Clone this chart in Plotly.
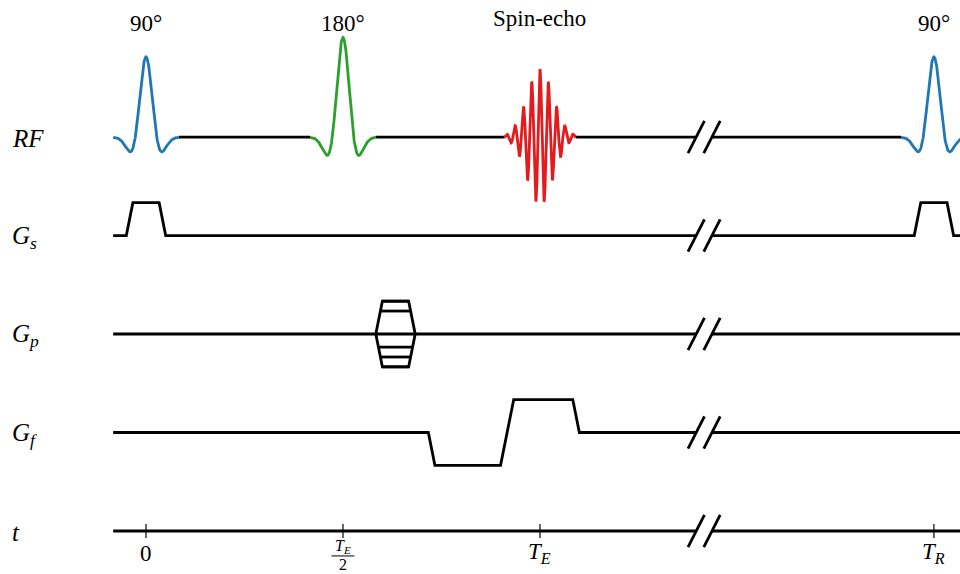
import numpy as np
import plotly.graph_objects as go

# ---- sequence timing (time unit: TE/2 = 6) ----
TE = 12.0
TR = 24.0
t_start, t_end = -1.0, 25.0
t_break = 17.0          # where the "//" axis break sits
break_gap = 0.24        # half-spacing of the two break slashes

# ---- rows (vertical offset of each channel baseline) ----
row_labels = ["<i>RF</i>", "<i>G</i><sub><i>s</i></sub>", "<i>G</i><sub><i>p</i></sub>",
              "<i>G</i><sub><i>f</i></sub>", "<i>t</i>"]
row_levels = [12.0, 9.0, 6.0, 3.0, 0.0]

# ---- RF excitation / refocusing pulses ----
rf_centers = [0.0, 6.0, 24.0]
rf_amps = [2.44, 3.03, 2.44]
rf_colors = ["#1f77b4", "#2ca02c", "#1f77b4"]
rf_labels = ["90°", "180°", "90°"]
rf_halfwidth = 1.0
rf_zero = 0.326         # first zero crossing of the pulse lobe
rf_decay = 0.250        # width of the pulse envelope

# ---- spin echo ----
echo_center = TE
echo_amp = 2.06
echo_halfwidth = 1.1
echo_period = 0.254
echo_sigma = 0.40

# ---- slice-select gradient (trapezoid times relative to each 90° pulse) ----
gs_times = [-0.6, -0.4, 0.4, 0.6]
gs_amps = [0.0, 1.0, 1.0, 0.0]

# ---- phase-encode table ----
gp_times = [7.0, 7.2, 8.0, 8.2]
gp_steps = [1.0, 0.7, -0.4, -0.7, -1.0]

# ---- frequency-encode (readout) gradient ----
gf_times = [8.6, 8.8, 10.8, 11.2, 13.0, 13.2]
gf_amps = [0.0, -1.0, -1.0, 1.0, 1.0, 0.0]

# ---- time axis ticks ----
tick_times = [0.0, TE / 2, TE, TR]

LW = 2.8
BLACK = "#000000"
FONT = "'Liberation Serif', 'Times New Roman', serif"

fig = go.Figure()


def add_line(xs, ys, color=BLACK, width=LW):
    fig.add_trace(go.Scatter(x=xs, y=ys, mode="lines",
                             line=dict(color=color, width=width, shape="linear"),
                             hoverinfo="skip", showlegend=False))


def with_break(xs, ys, level):
    """Split a waveform at the axis break and add the '//' marks."""
    xs = list(xs)
    ys = list(ys)
    left_x = [x for x in xs if x < t_break - break_gap] + [t_break - break_gap]
    left_y = ys[:len(left_x) - 1] + [level]
    right_x = [t_break + break_gap] + [x for x in xs if x > t_break + break_gap]
    right_y = [level] + ys[len(xs) - (len(right_x) - 1):]
    add_line(left_x, left_y)
    add_line(right_x, right_y)
    for cx in (t_break - break_gap, t_break + break_gap):
        add_line([cx - 0.25, cx + 0.25], [level - 0.49, level + 0.49])


# ---- RF row ----
rf_level = row_levels[0]
u = np.linspace(-1.0, 1.0, 301)
rf_shape = (1 - (u / rf_zero) ** 2) * np.exp(-u ** 2 / (2 * rf_decay ** 2))
for c, a, col in zip(rf_centers, rf_amps, rf_colors):
    add_line(c + rf_halfwidth * u, rf_level + a * rf_shape, color=col)

ue = np.linspace(-echo_halfwidth, echo_halfwidth, 601)
echo_shape = np.cos(2 * np.pi * ue / echo_period) * np.exp(-ue ** 2 / (2 * echo_sigma ** 2))
add_line(echo_center + ue, rf_level + echo_amp * echo_shape, color="#e41a1c")

rf_gaps = [(rf_centers[0] + rf_halfwidth, rf_centers[1] - rf_halfwidth),
           (rf_centers[1] + rf_halfwidth, echo_center - echo_halfwidth)]
for a, b in rf_gaps:
    add_line([a, b], [rf_level, rf_level])
with_break([echo_center + echo_halfwidth, rf_centers[2] - rf_halfwidth],
           [rf_level, rf_level], rf_level)

# ---- Gs row ----
gs_level = row_levels[1]
gx = [t_start] + [rf_centers[0] + t for t in gs_times] + [rf_centers[2] + t for t in gs_times] + [t_end]
gy = [0.0] + gs_amps + gs_amps + [0.0]
with_break(gx, [gs_level + v for v in gy], gs_level)

# ---- Gp row ----
gp_level = row_levels[2]
with_break([t_start, t_end], [gp_level, gp_level], gp_level)
ramp = gp_times[1] - gp_times[0]
hx = [gp_times[0], gp_times[1], gp_times[2], gp_times[3], gp_times[2], gp_times[1], gp_times[0]]
hy = [0.0, 1.0, 1.0, 0.0, -1.0, -1.0, 0.0]
add_line(hx, [gp_level + v for v in hy])
for s in gp_steps:
    add_line([gp_times[0] + ramp * abs(s), gp_times[3] - ramp * abs(s)],
             [gp_level + s, gp_level + s])

# ---- Gf row ----
gf_level = row_levels[3]
fx = [t_start] + gf_times + [t_end]
fy = [0.0] + gf_amps + [0.0]
with_break(fx, [gf_level + v for v in fy], gf_level)

# ---- time axis ----
t_level = row_levels[4]
with_break([t_start, t_end], [t_level, t_level], t_level)
fig.add_trace(go.Scatter(x=tick_times, y=[t_level] * len(tick_times), mode="markers",
                         marker=dict(symbol="line-ns", size=10,
                                     line=dict(color=BLACK, width=1.2)),
                         hoverinfo="skip", showlegend=False))

# ---- text ----
annotations = []
for lab, lev in zip(row_labels, row_levels):
    annotations.append(dict(x=-4.14, y=lev - 0.05, text=lab, xanchor="left", yanchor="middle",
                            showarrow=False, font=dict(family=FONT, size=25, color=BLACK)))
for c, lab in zip(rf_centers, rf_labels):
    annotations.append(dict(x=c, y=15.47, text=lab, xanchor="center", yanchor="middle",
                            showarrow=False, font=dict(family=FONT, size=23, color=BLACK)))
annotations.append(dict(x=echo_center, y=15.62, text="Spin-echo", xanchor="center",
                        yanchor="middle", showarrow=False,
                        font=dict(family=FONT, size=23, color=BLACK)))

tick_texts = ["0", None, "<i>T</i><sub><i>E</i></sub>", "<i>T</i><sub><i>R</i></sub>"]
for tt, txt in zip(tick_times, tick_texts):
    if txt is None:
        continue
    annotations.append(dict(x=tt, y=-0.68, text=txt, xanchor="center", yanchor="middle",
                            showarrow=False, font=dict(family=FONT, size=23, color=BLACK)))
# TE/2 as a stacked fraction
annotations.append(dict(x=tick_times[1], y=-0.48, text="<i>T</i><sub><i>E</i></sub>",
                        xanchor="center", yanchor="middle", showarrow=False,
                        font=dict(family=FONT, size=16, color=BLACK)))
annotations.append(dict(x=tick_times[1], y=-1.02, text="2", xanchor="center",
                        yanchor="middle", showarrow=False,
                        font=dict(family=FONT, size=16, color=BLACK)))
add_line([tick_times[1] - 0.35, tick_times[1] + 0.35], [-0.76, -0.76], width=1.0)

px_per_unit = 32.83
fig.update_layout(
    width=960, height=574,
    margin=dict(l=0, r=0, t=0, b=0),
    paper_bgcolor="white", plot_bgcolor="white",
    font=dict(family=FONT),
    xaxis=dict(visible=False, range=[-146 / px_per_unit, (960 - 146) / px_per_unit]),
    yaxis=dict(visible=False, range=[(531 - 574) / px_per_unit, 531 / px_per_unit]),
    annotations=annotations,
    showlegend=False,
)

fig.write_html("out.html")
